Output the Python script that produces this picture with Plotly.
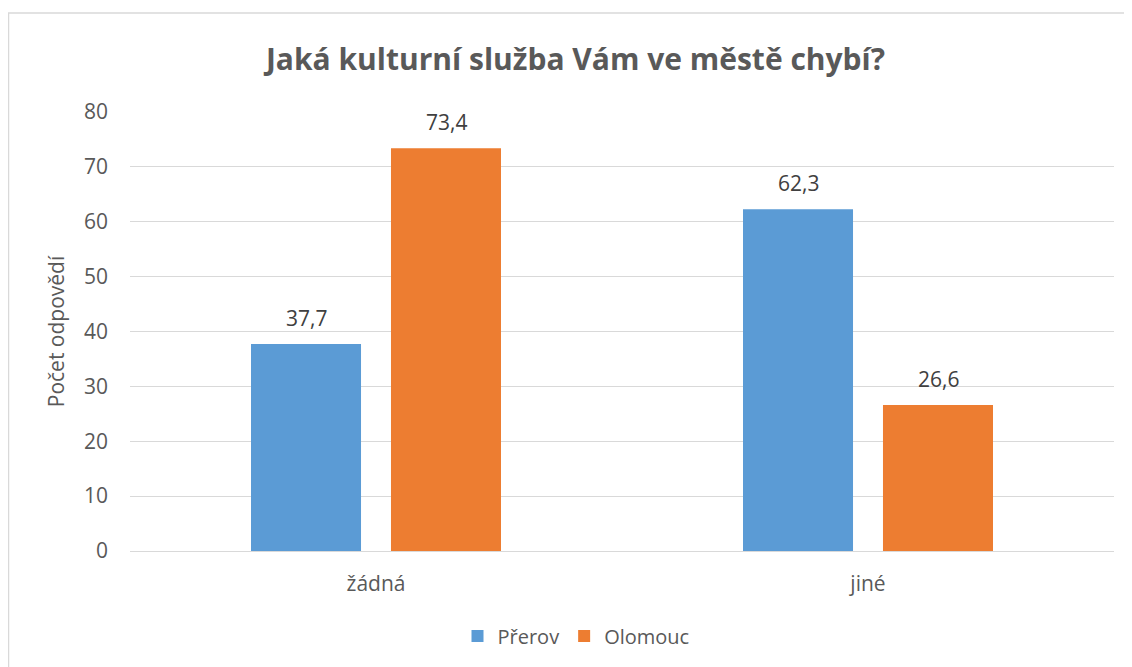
import plotly.graph_objects as go

categories = ["žádná", "jiné"]
prerov = [37.7, 62.3]
olomouc = [73.4, 26.6]
series_names = ["Přerov", "Olomouc"]
colors = ["#5B9BD5", "#ED7D31"]
title = "Jaká kulturní služba Vám ve městě chybí?"
y_title = "Počet odpovědí"

FONT = "Open Sans"
OFF = 8  # page body margin offset

def lbl(vals):
    return [f"{v:.1f}".replace(".", ",") for v in vals]

fig = go.Figure()
for name, vals, col in zip(series_names, [prerov, olomouc], colors):
    fig.add_trace(go.Bar(x=categories, y=vals, name=name,
                         marker=dict(color=col, line=dict(width=0))))

W, H = 1132 - OFF, 667 - OFF
L, T = 130 - OFF, 112 - OFF
R = W - (1114 - OFF)
B = H - (551 - OFF)
pw = W - L - R
ph = H - T - B

# data labels above bars
for vals, shift in zip([prerov, olomouc], [-70, 70]):
    for c, v, t in zip(categories, vals, lbl(vals)):
        fig.add_annotation(x=c, y=v, text=t, showarrow=False, xshift=shift,
                           yshift=26, yanchor="middle",
                           font=dict(size=21, color="#404040", family=FONT))

fig.update_layout(
    width=W, height=H,
    margin=dict(l=L, r=R, t=T, b=B),
    paper_bgcolor="white", plot_bgcolor="white",
    font=dict(family=FONT, color="#595959", size=21),
    title=dict(text="<b>" + title + "</b>", x=(575.5 - OFF) / W, xanchor="center",
               y=1 - (59 - OFF) / H, yanchor="middle",
               font=dict(size=30, color="#595959", family=FONT)),
    barmode="group", bargap=0.431, bargroupgap=0.214,
    showlegend=True,
    legend=dict(orientation="h", x=(576 - 130) / pw, xanchor="center",
                y=-(636 - 551) / ph, yanchor="middle",
                font=dict(size=20, color="#595959", family=FONT),
                itemwidth=30, traceorder="normal"),
    yaxis=dict(range=[0, 80], dtick=10, showgrid=True, gridcolor="#d9d9d9",
               gridwidth=1.3, zeroline=False, showline=False, ticks="",
               tickfont=dict(size=21, color="#595959"), ticklabelstandoff=21,
               title=dict(text=y_title, font=dict(size=21, color="#595959"), standoff=13)),
    xaxis=dict(showline=True, linecolor="#d9d9d9", linewidth=1.3, ticks="",
               tickfont=dict(size=21, color="#595959"), ticklabelstandoff=14),
)

# chart border (as in the source image)
fig.add_shape(type="rect", xref="paper", yref="paper",
              x0=(8.5 - 130) / pw, x1=(1132 + 20 - 130) / pw,
              y0=-(667 + 20 - 551) / ph, y1=1 + (112 - 13) / ph,
              line=dict(color="#d9d9d9", width=1.5), layer="below")

fig.write_html("out.html")
